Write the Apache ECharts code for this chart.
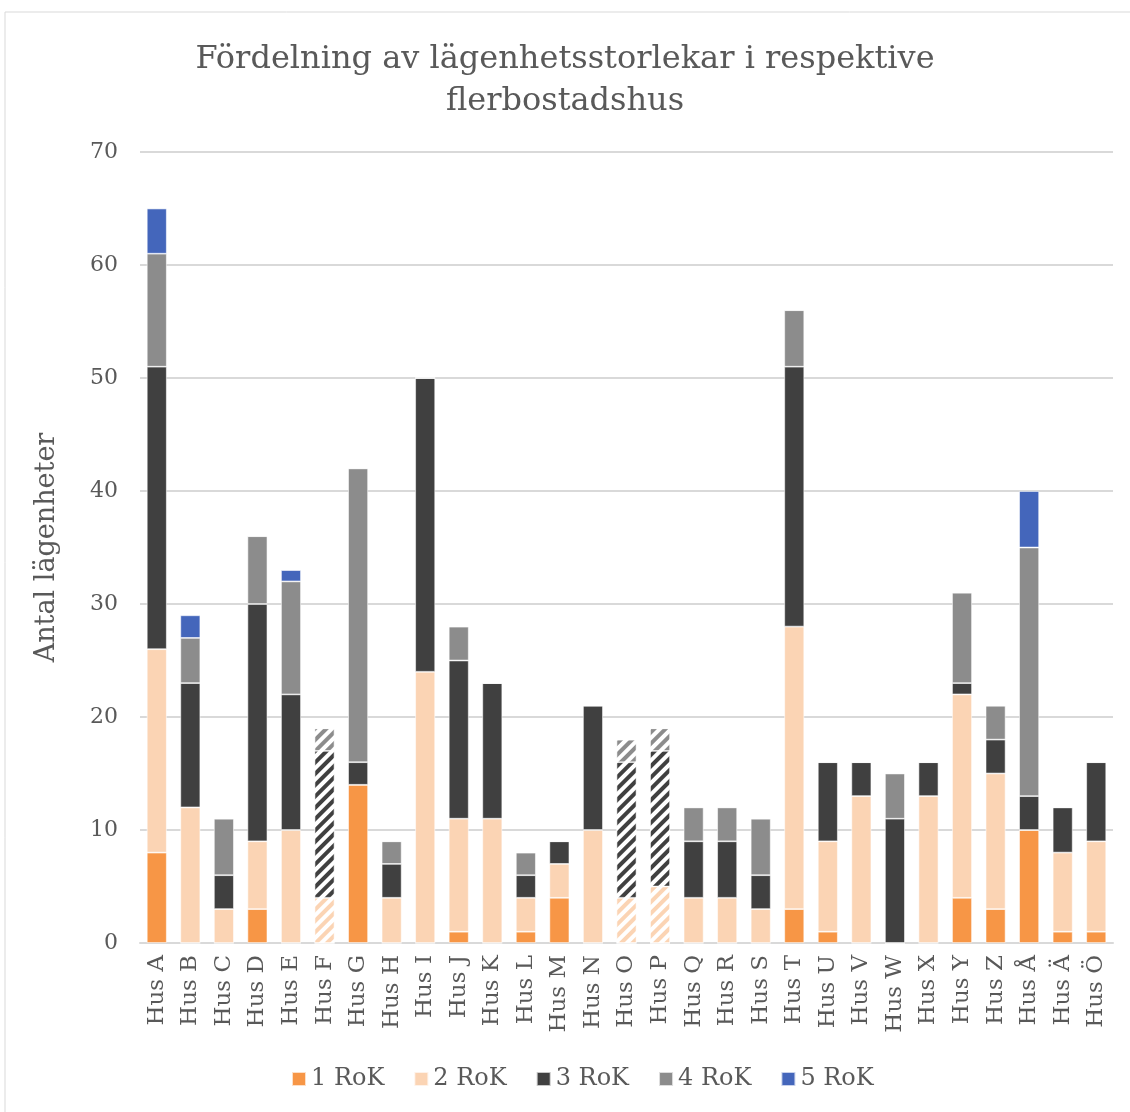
<!DOCTYPE html>
<html>
<head>
<meta charset="utf-8">
<script src="https://cdn.jsdelivr.net/npm/echarts@6/dist/echarts.min.js"></script>
<style>
  html, body { margin: 0; padding: 0; background: #fff; }
  #chart { width: 1130px; height: 1112px; }
</style>
</head>
<body>
<div id="chart"></div>
<script>
  // kategorier och antal lägenheter per storlek
  const husList = ['Hus A', 'Hus B', 'Hus C', 'Hus D', 'Hus E', 'Hus F', 'Hus G', 'Hus H', 'Hus I', 'Hus J',
    'Hus K', 'Hus L', 'Hus M', 'Hus N', 'Hus O', 'Hus P', 'Hus Q', 'Hus R', 'Hus S', 'Hus T',
    'Hus U', 'Hus V', 'Hus W', 'Hus X', 'Hus Y', 'Hus Z', 'Hus Å', 'Hus Ä', 'Hus Ö']
  const rok1 = [8, 0, 0, 3, 0, 0, 14, 0, 0, 1, 0, 1, 4, 0, 0, 0, 0, 0, 0, 3, 1, 0, 0, 0, 4, 3, 10, 1, 1]
  const rok2 = [18, 12, 3, 6, 10, 4, 0, 4, 24, 10, 11, 3, 3, 10, 4, 5, 4, 4, 3, 25, 8, 13, 0, 13, 18, 12, 0, 7, 8]
  const rok3 = [25, 11, 3, 21, 12, 13, 2, 3, 26, 14, 12, 2, 2, 11, 12, 12, 5, 5, 3, 23, 7, 3, 11, 3, 1, 3, 3, 4, 7]
  const rok4 = [10, 4, 5, 6, 10, 2, 26, 2, 0, 3, 0, 2, 0, 0, 2, 2, 3, 3, 5, 5, 0, 0, 4, 0, 8, 3, 22, 0, 0]
  const rok5 = [4, 2, 0, 0, 1, 0, 0, 0, 0, 0, 0, 0, 0, 0, 0, 0, 0, 0, 0, 0, 0, 0, 0, 0, 0, 0, 5, 0, 0]
  const yTicks = { min: 0, max: 70, interval: 10 }
  // hus som ritas randiga
  const randigaHus = ['Hus F', 'Hus O', 'Hus P']

  const colors = ['#F79646', '#FBD4B4', '#404040', '#8C8C8C', '#4466BB']
  const serif = 'DejaVu Serif'

  function buildData(values, color) {
    return values.map((v, i) => {
      if (randigaHus.indexOf(husList[i]) >= 0) {
        return {
          value: v,
          itemStyle: {
            color: '#ffffff',
            decal: {
              symbol: 'rect',
              symbolSize: 1,
              color: color,
              dashArrayX: [1, 0],
              dashArrayY: [4, 4],
              rotation: -Math.PI / 4
            }
          }
        }
      }
      return v
    })
  }

  function makeSeries(name, values, color) {
    return {
      name: name,
      type: 'bar',
      stack: 'total',
      barWidth: 20,
      data: buildData(values, color),
      itemStyle: { color: color, borderColor: 'rgba(255,255,255,0.7)', borderWidth: 0.8 }
    }
  }

  const myChart = echarts.init(document.getElementById('chart'))
  myChart.setOption({
    animation: false,
    color: colors,
    title: {
      text: 'Fördelning av lägenhetsstorlekar i respektive\nflerbostadshus',
      left: 'center',
      top: 34,
      textStyle: {
        fontFamily: serif,
        fontWeight: 'normal',
        fontSize: 32,
        lineHeight: 42,
        color: '#595959'
      }
    },
    graphic: [{
      type: 'rect',
      shape: { x: 5, y: 12, width: 1200, height: 1200 },
      style: { fill: 'none', stroke: '#D9D9D9', lineWidth: 1 },
      silent: true
    }],
    legend: {
      bottom: 16,
      left: 286,
      itemWidth: 14,
      itemHeight: 14,
      itemGap: 29,
      icon: 'rect',
      textStyle: { fontFamily: serif, fontSize: 24, color: '#595959' },
      data: ['1 RoK', '2 RoK', '3 RoK', '4 RoK', '5 RoK']
    },
    grid: {
      left: 140,
      right: 17,
      top: 152,
      bottom: 169
    },
    xAxis: {
      type: 'category',
      data: husList,
      axisTick: { show: false },
      axisLine: { lineStyle: { color: '#D9D9D9', width: 2 } },
      axisLabel: {
        rotate: 90,
        interval: 0,
        margin: 12,
        fontFamily: serif,
        fontSize: 23,
        color: '#595959'
      }
    },
    yAxis: {
      type: 'value',
      min: yTicks.min,
      max: yTicks.max,
      interval: yTicks.interval,
      name: 'Antal lägenheter',
      nameLocation: 'middle',
      nameRotate: 90,
      nameGap: 80,
      nameTextStyle: { fontFamily: serif, fontSize: 27, color: '#595959' },
      axisLine: { show: false },
      axisTick: { show: false },
      splitLine: { lineStyle: { color: '#D9D9D9', width: 2 } },
      axisLabel: {
        margin: 22,
        fontFamily: serif,
        fontSize: 22,
        color: '#595959'
      }
    },
    series: [
      makeSeries('1 RoK', rok1, colors[0]),
      makeSeries('2 RoK', rok2, colors[1]),
      makeSeries('3 RoK', rok3, colors[2]),
      makeSeries('4 RoK', rok4, colors[3]),
      makeSeries('5 RoK', rok5, colors[4])
    ]
  })
</script>
</body>
</html>
